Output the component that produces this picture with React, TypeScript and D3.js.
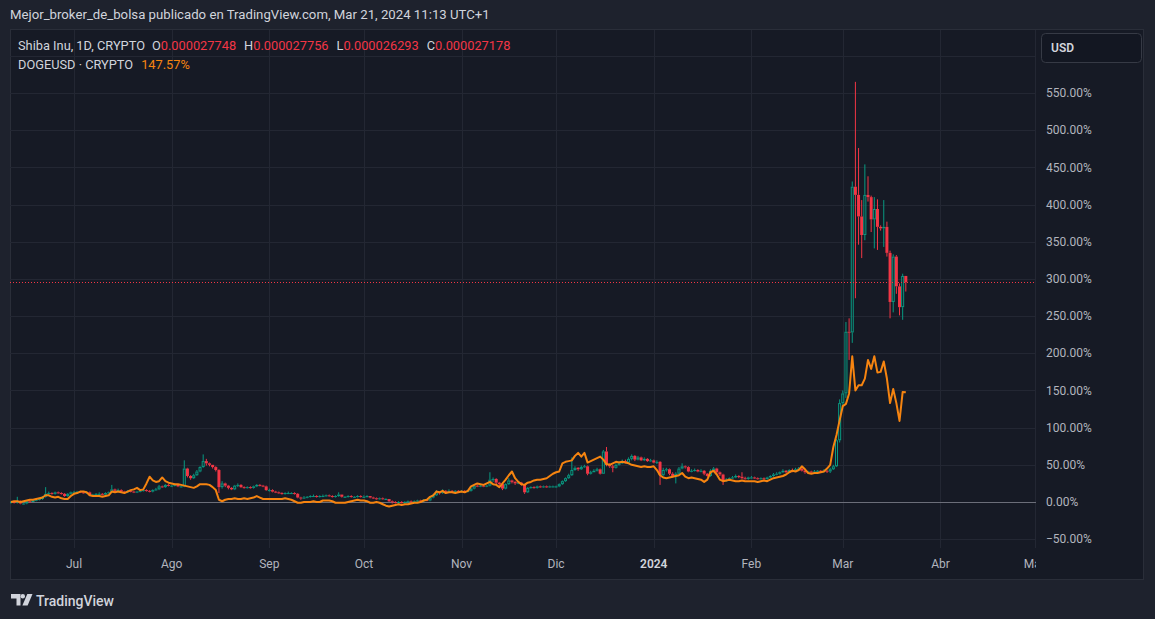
import * as d3 from "d3";

// daily candles, Jun 11 2023 .. Mar 21 2024, values in % vs first close
const firstDay = new Date(2023, 5, 11);

const shibClose = [
  0, -1, 1, -2, -2, 1, 0, 2, 3, 4, 7, 11, 12, 11, 13, 12, 11, 8, 11, 13,
  13, 14, 13, 12, 13, 9, 10, 11, 11, 10, 12, 13, 17, 15, 16, 14, 13, 15, 14, 13, 14, 15, 16, 15, 14, 16, 17, 21, 20, 23, 22,
  22, 23, 21, 21, 45, 35, 32, 36, 41, 47, 55, 52, 50, 47, 43, 20, 25, 22, 19, 17, 22, 23, 20, 19, 20, 19, 21, 23, 22, 21, 16,
  16, 14, 13, 12, 11, 12, 12, 12, 11, 6, 5, 6, 7, 8, 8, 7, 8, 8, 9, 8, 7, 8, 10, 7, 7, 8, 7, 7, 8, 7,
  7, 8, 6, 5, 4, 5, 4, 4, 1, 0, -1, 0, -1, 0, 1, 0, 1, 2, 1, 3, 2, 6, 9, 13, 12, 15, 14, 15, 14, 15, 14,
  15, 14, 15, 18, 22, 21, 22, 21, 22, 30, 31, 26, 24, 18, 24, 29, 27, 25, 26, 23, 13, 19, 20, 19, 21, 20, 21, 20, 21, 21,
  21, 24, 28, 32, 36, 43, 46, 44, 47, 48, 38, 40, 42, 44, 38, 68, 50, 48, 46, 50, 52, 55, 53, 58, 62, 57, 60, 56, 58, 55, 56,
  53, 54, 36, 43, 44, 38, 35, 38, 45, 48, 47, 41, 42, 43, 41, 42, 38, 35, 42, 45, 40, 37, 28, 30, 32, 33, 35, 34, 32, 31, 33,
  33, 32, 31, 32, 31, 33, 35, 37, 38, 40, 42, 40, 43, 42, 44, 45, 42, 40, 41, 40, 41, 42, 41, 42, 41, 44, 48, 83, 133,
  146, 229, 228, 424, 413, 384, 359, 413, 410, 380, 394, 370, 368, 370, 335, 269, 330, 290, 262, 304, 295.5,
];

const shibHigh = [
  1, 1, 7, 2, -1, 2, 2, 3, 4, 5, 8, 20, 14, 13, 14, 14, 13, 12, 12, 14,
  15, 15, 15, 14, 14, 14, 11, 12, 13, 12, 13, 14, 23, 18, 18, 17, 15, 16, 16, 15, 15, 17, 17, 17, 16, 17, 19, 23, 22, 24, 24,
  23, 24, 23, 22, 56, 46, 36, 38, 43, 48, 64, 58, 53, 50, 48, 44, 28, 26, 23, 20, 23, 25, 24, 21, 21, 21, 22, 24, 24, 23, 22,
  18, 17, 15, 14, 13, 13, 14, 13, 13, 12, 7, 8, 8, 9, 10, 9, 9, 10, 10, 10, 9, 9, 13, 10, 8, 9, 9, 8, 9, 9,
  9, 9, 8, 7, 6, 6, 6, 5, 4, 2, 1, 1, 1, 1, 2, 2, 2, 3, 3, 4, 4, 7, 11, 16, 14, 17, 16, 17, 16, 16, 16,
  16, 16, 16, 19, 23, 23, 23, 23, 23, 40, 33, 32, 27, 25, 25, 32, 30, 28, 28, 27, 24, 20, 21, 21, 22, 22, 22, 22, 22, 22,
  22, 25, 29, 33, 38, 60, 48, 47, 49, 50, 49, 42, 44, 46, 45, 70, 74, 52, 50, 52, 55, 57, 57, 60, 64, 63, 62, 61, 60, 59, 58,
  57, 56, 55, 46, 46, 45, 40, 40, 47, 52, 49, 48, 44, 45, 44, 44, 43, 39, 44, 47, 46, 41, 38, 32, 33, 35, 37, 36, 40, 34, 34,
  35, 34, 33, 33, 33, 34, 36, 39, 40, 41, 44, 43, 44, 45, 46, 47, 46, 43, 42, 42, 43, 43, 43, 44, 43, 46, 50, 85, 138,
  150, 242, 247, 431, 565, 476, 406, 454, 438, 412, 410, 407, 372, 406, 377, 338, 333, 332, 294, 307, 304,
];

const shibLow = [
  -2, -2, -2, -3, -3, -3, -1, 0, 1, 2, 3, 6, 10, 10, 10, 11, 10, 7, 7, 10,
  11, 12, 12, 11, 11, 8, 8, 9, 10, 9, 9, 11, 12, 14, 14, 13, 12, 12, 13, 12, 12, 13, 14, 14, 13, 13, 15, 16, 19, 19, 21,
  20, 21, 20, 20, 20, 33, 30, 31, 35, 40, 46, 49, 48, 45, 41, 12, 18, 20, 17, 16, 16, 20, 19, 18, 18, 18, 18, 20, 21, 20, 15,
  14, 13, 12, 11, 10, 10, 11, 11, 10, 5, 3, 4, 5, 6, 7, 6, 6, 7, 7, 7, 6, 6, 7, 6, 6, 6, 6, 6, 6, 6,
  6, 6, 5, 4, 3, 3, 3, 3, 0, -2, -2, -2, -2, -2, -1, -1, 0, 0, 0, 0, 1, 1, 5, 8, 10, 11, 12, 13, 13, 13, 13,
  13, 13, 13, 14, 17, 20, 20, 20, 20, 21, 27, 24, 22, 16, 17, 23, 25, 23, 24, 22, 11, 12, 18, 18, 18, 19, 19, 19, 19, 20,
  19, 20, 23, 27, 31, 35, 42, 42, 43, 46, 36, 37, 40, 41, 37, 38, 48, 46, 40, 45, 49, 51, 52, 52, 56, 55, 56, 55, 55, 54, 54,
  52, 51, 23, 35, 41, 36, 33, 25, 37, 44, 45, 40, 40, 41, 40, 40, 36, 34, 34, 41, 38, 35, 23, 27, 29, 31, 32, 32, 31, 30, 30,
  31, 31, 30, 30, 30, 30, 32, 34, 36, 37, 39, 39, 39, 40, 41, 42, 41, 38, 39, 38, 39, 40, 40, 40, 39, 39, 43, 47, 80,
  128, 140, 191, 214, 274, 346, 328, 352, 404, 363, 341, 339, 365, 343, 330, 247, 255, 280, 251, 245, 283,
];

const dogeClose = [
  0, 1, 1, 0, 1, 2, 3, 3, 4, 5, 6, 9, 9, 7, 6, 7, 5, 4, 4, 8,
  11, 12, 14, 14, 13, 9, 8, 8, 8, 7, 8, 9, 14, 13, 14, 13, 12, 14, 16, 17, 19, 16, 17, 25, 34, 29, 27, 28, 33, 28, 26,
  25, 24, 24, 23, 22, 21, 20, 19, 21, 24, 24, 24, 23, 20, 16, 3, 1, 3, 4, 4, 5, 4, 4, 5, 4, 5, 6, 8, 6, 4, 4,
  4, 4, 4, 4, 4, 5, 4, 3, 1, -1, -1, 0, 0, 0, 1, 0, 0, 2, 2, 2, 1, -1, -1, -1, -1, 0, 1, 2, 3, 2,
  2, 1, -1, -1, 0, -1, -3, -5, -6, -5, -4, -3, -4, -3, -3, -2, -1, -1, 0, 2, 3, 7, 9, 14, 13, 15, 12, 13, 13, 12, 13,
  14, 13, 15, 21, 23, 25, 24, 23, 25, 27, 24, 23, 20, 25, 30, 36, 41, 32, 27, 24, 23, 26, 27, 29, 30, 30, 31, 32, 35, 38,
  40, 41, 52, 54, 55, 56, 62, 66, 61, 66, 53, 55, 57, 59, 61, 57, 51, 50, 52, 54, 53, 54, 53, 52, 50, 49, 48, 47, 48, 47, 47,
  48, 43, 36, 33, 32, 33, 34, 35, 36, 39, 34, 32, 33, 32, 31, 30, 27, 30, 40, 42, 37, 30, 28, 29, 30, 29, 28, 28, 29, 28, 28,
  28, 28, 27, 28, 29, 28, 30, 32, 33, 34, 35, 37, 40, 42, 41, 43, 48, 44, 39, 38, 39, 39, 40, 41, 45, 50, 74, 90, 110,
  129, 132, 146, 196, 150, 157, 157, 166, 191, 179, 196, 174, 175, 189, 166, 133, 152, 133, 109, 148, 147.57,
];

const monthLabels = ["Jul", "Ago", "Sep", "Oct", "Nov", "Dic", "2024", "Feb", "Mar", "Abr", "May"];
const pctTicks = [-50, 0, 50, 100, 150, 200, 250, 300, 350, 400, 450, 500, 550];
const gridPct = [...pctTicks, 600];

const legendMain = ["Shiba Inu, 1D, CRYPTO", "0.000027748", "0.000027756", "0.000026293", "0.000027178"];
const legendDoge = ["DOGEUSD · CRYPTO", "147.57%"];

const UP = "#089981";
const DOWN = "#f23645";
const ORANGE = "#f68410";
const FONT = "Roboto, 'Noto Sans', sans-serif";

const App = () => {
  const width = 1155;
  const height = 619;
  const plot = { left: 10, right: 1036, top: 30, bottom: 548 };

  const x = d3
    .scaleTime()
    .domain([new Date(2023, 6, 1), new Date(2024, 4, 1)])
    .range([74, 1035]);
  const y = d3.scaleLinear().domain([0, 550]).range([502, 93]);

  const days = shibClose.map((_, i) => d3.timeDay.offset(firstDay, i));
  const months = d3.timeMonth.range(new Date(2023, 6, 1), new Date(2024, 4, 2));

  const dogeLine = d3
    .line<number>()
    .x((_, i) => x(days[i]))
    .y((d) => y(d));

  const lastClose = shibClose[shibClose.length - 1];

  return (
    <div style={{ position: "absolute", left: 0, top: 0 }}>
      <svg width={width} height={height} style={{ display: "block" }} fontFamily={FONT}>
        <defs>
          <clipPath id="plotClip">
            <rect x={plot.left} y={plot.top} width={plot.right - plot.left} height={plot.bottom - plot.top} />
          </clipPath>
          <clipPath id="timeClip">
            <rect x={plot.left} y={plot.bottom} width={plot.right - plot.left} height={32} />
          </clipPath>
        </defs>

        <rect width={width} height={height} fill="#1e222d" />
        <text x={10} y={19} fontSize={13.2} fill="#d1d4dc">
          Mejor_broker_de_bolsa publicado en TradingView.com, Mar 21, 2024 11:13 UTC+1
        </text>

        {/* chart pane */}
        <rect x={10.5} y={29.5} width={1133} height={550} fill="#161a25" stroke="#2a2e39" />

        <g clipPath="url(#plotClip)">
          {gridPct.map((p) => (
            <line key={`h${p}`} x1={plot.left} x2={plot.right} y1={Math.round(y(p)) + 0.5} y2={Math.round(y(p)) + 0.5} stroke="#232733" />
          ))}
          {months.map((m, i) => (
            <line key={`v${i}`} x1={Math.round(x(m)) + 0.5} x2={Math.round(x(m)) + 0.5} y1={plot.top} y2={plot.bottom} stroke="#232733" />
          ))}
          <line x1={plot.left} x2={plot.right} y1={Math.round(y(0)) + 0.5} y2={Math.round(y(0)) + 0.5} stroke="#6b6e79" />

          {shibClose.map((c, i) => {
            const o = i === 0 ? -1 : shibClose[i - 1];
            const cx = x(days[i]);
            const top = y(Math.max(o, c));
            const bot = y(Math.min(o, c));
            const up = c >= o;
            const col = up ? UP : DOWN;
            const bh = Math.max(1, bot - top);
            return (
              <g key={`c${i}`}>
                <line x1={cx} x2={cx} y1={y(shibHigh[i])} y2={top} stroke={col} strokeWidth={1} />
                <line x1={cx} x2={cx} y1={top + bh} y2={y(shibLow[i])} stroke={col} strokeWidth={1} />
                {up && bh > 2 ? (
                  <rect x={cx - 1} y={top + 0.5} width={2} height={bh - 1} fill="none" stroke={col} strokeWidth={1} />
                ) : (
                  <rect x={cx - 1.5} y={top} width={3} height={bh} fill={col} />
                )}
              </g>
            );
          })}

          <path d={dogeLine(dogeClose) ?? ""} fill="none" stroke={ORANGE} strokeWidth={2} strokeLinejoin="round" />

          <line
            x1={plot.left}
            x2={plot.right}
            y1={Math.round(y(lastClose)) + 0.5}
            y2={Math.round(y(lastClose)) + 0.5}
            stroke={DOWN}
            strokeDasharray="1 2"
          />
        </g>

        {/* legend */}
        <text x={18} y={50} fontSize={12.8} fill="#d1d4dc">
          <tspan>{legendMain[0]}</tspan>
          <tspan dx={7}>O</tspan>
          <tspan fill={DOWN}>{legendMain[1]}</tspan>
          <tspan dx={8}>H</tspan>
          <tspan fill={DOWN}>{legendMain[2]}</tspan>
          <tspan dx={8}>L</tspan>
          <tspan fill={DOWN}>{legendMain[3]}</tspan>
          <tspan dx={8}>C</tspan>
          <tspan fill={DOWN}>{legendMain[4]}</tspan>
        </text>
        <text x={18} y={69} fontSize={12.8} fill="#d1d4dc">
          <tspan>{legendDoge[0]}</tspan>
          <tspan dx={8} fill={ORANGE}>{legendDoge[1]}</tspan>
        </text>

        {/* price axis */}
        {pctTicks.map((p) => (
          <text key={`t${p}`} x={1046} y={y(p)} dy="0.35em" fontSize={12} fill="#b2b5be">
            {`${p < 0 ? "\u2212" + Math.abs(p) : p}.00%`}
          </text>
        ))}
        <rect x={1041.5} y={33.5} width={100} height={29} rx={4} fill="#131722" stroke="#363a45" />
        <text x={1051} y={48} dy="0.35em" fontSize={12} fontWeight={600} fill="#d1d4dc">
          USD
        </text>

        {/* time axis */}
        <g clipPath="url(#timeClip)">
          {months.map((m, i) => (
            <text
              key={`m${i}`}
              x={x(m)}
              y={564}
              dy="0.35em"
              textAnchor="middle"
              fontSize={12}
              fontWeight={monthLabels[i] === "2024" ? 600 : 400}
              fill={monthLabels[i] === "2024" ? "#d1d4dc" : "#b2b5be"}
            >
              {monthLabels[i]}
            </text>
          ))}
        </g>

        {/* footer logo */}
        <g fill="#d1d4dc">
          <path d="M11 594 H20.5 V605.5 H16.5 V598.5 H11 Z" />
          <circle cx={22.8} cy={596.3} r={2.2} />
          <path d="M27.3 594 H32.5 L27.6 605.5 H22.4 Z" />
        </g>
        <text x={36} y={605.5} fontSize={14} fontWeight={500} fill="#d1d4dc">
          TradingView
        </text>
      </svg>
    </div>
  );
};

export default App;
